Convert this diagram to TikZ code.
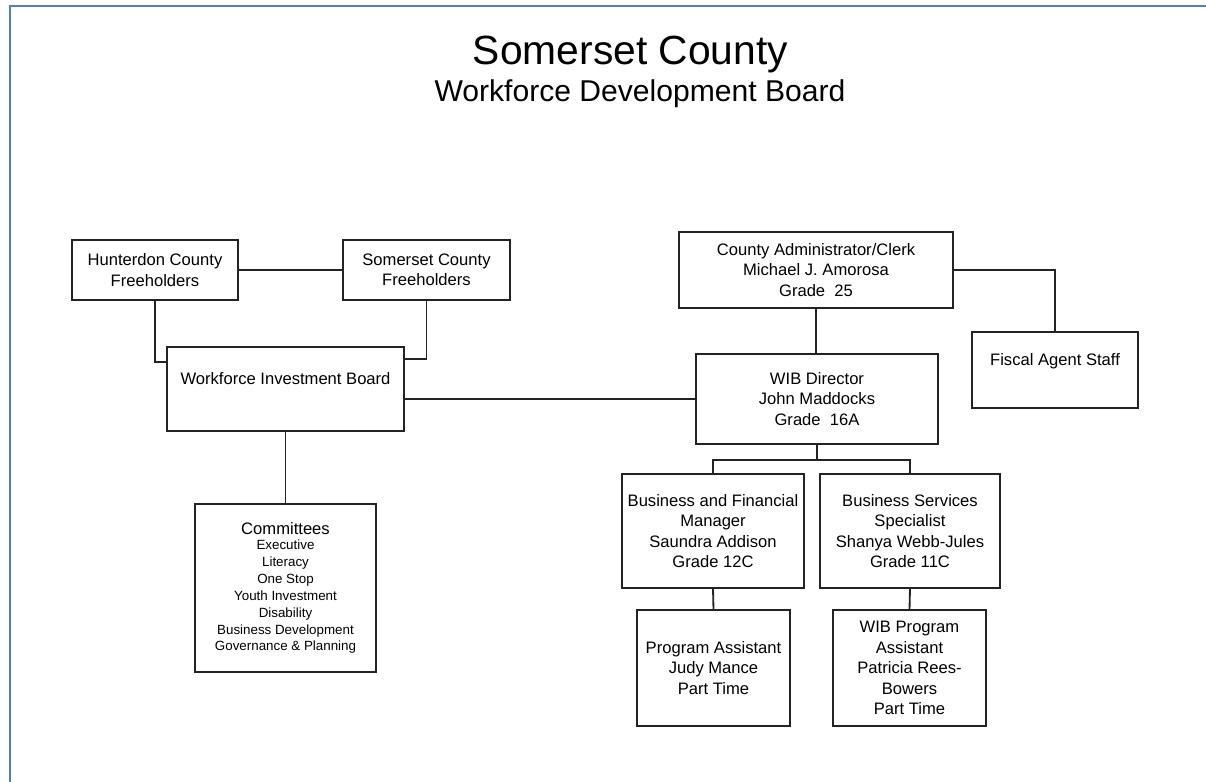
\documentclass[tikz,border=0pt]{standalone}
\usepackage{fontspec}
\setmainfont{Liberation Sans}
\usetikzlibrary{calc}
\definecolor{pageblue}{RGB}{79,129,189}
\definecolor{boxline}{RGB}{35,35,35}

\begin{document}
\begin{tikzpicture}[
  x=0.025cm,y=-0.025cm,
  unit/.style={rectangle,draw=boxline,line width=1.3pt,align=center,
               inner sep=1pt,outer sep=0pt,font=\fontsize{11.8}{14.5}\selectfont},
  link/.style={draw=boxline,line width=1.3pt},
  title/.style={anchor=base,inner sep=0pt}
]
\useasboundingbox (0,0) rectangle (1206,782);
\draw[pageblue,line width=1.6pt] (10,782) -- (10,6) -- (1206,6);
\node[title,font=\fontsize{29}{34}\selectfont] (head) at (630.5,65) {Somerset County};
\node[title,font=\fontsize{21.4}{25}\selectfont] (sub)  at (640,102) {Workforce Development Board};
\node[unit,minimum width=4.15cm,minimum height=1.5cm]   (hunt)   at (155,270)   {Hunterdon County\\Freeholders};
\node[unit,minimum width=4.175cm,minimum height=1.5cm]  (somfh)  at (426.5,270) {Somerset County\\Freeholders};
\node[unit,minimum width=5.925cm,minimum height=2.1cm]  (wib)    at (285.5,389) {Workforce Investment Board\\~};
\node[unit,minimum width=4.525cm,minimum height=4.2cm,font=\fontsize{9.5}{12}\selectfont] (comm) at (285.5,588)
  {{\fontsize{11.8}{14}\selectfont Committees}\\[-1pt]Executive\\Literacy\\One Stop\\Youth Investment\\Disability\\Business Development\\Governance \& Planning};
\node[unit,minimum width=6.85cm,minimum height=1.9cm]   (admin)  at (816,270)   {County Administrator/Clerk\\Michael J. Amorosa\\Grade\ \ 25};
\node[unit,minimum width=4.15cm,minimum height=1.9cm]   (fiscal) at (1055,370)  {Fiscal Agent Staff\\~};
\node[unit,minimum width=6.05cm,minimum height=2.25cm]  (dir)    at (817,399)   {WIB Director\\John Maddocks\\Grade\ \ 16A};
\node[unit,minimum width=4.55cm,minimum height=2.85cm]  (bfm)    at (713,531)   {Business and Financial\\Manager\\Saundra Addison\\Grade 12C};
\node[unit,minimum width=4.5cm,minimum height=2.85cm]   (bss)    at (910,531)   {Business Services\\Specialist\\Shanya Webb-Jules\\Grade 11C};
\node[unit,minimum width=3.825cm,minimum height=2.9cm]  (pa)     at (713.5,668) {Program Assistant\\Judy Mance\\Part Time};
\node[unit,minimum width=3.825cm,minimum height=2.9cm]  (wpa)    at (909.5,668) {WIB Program\\Assistant\\Patricia Rees-\\Bowers\\Part Time};
\draw[link] (hunt.east) -- (somfh.west);
\draw[link] (hunt.south) |- ($(wib.north west)+(0,15)$);
\draw[link] (somfh.south) |- ($(wib.north east)+(0,12)$);
\draw[link] (wib.south) -- (comm.north);
\draw[link] (dir.west) -- (dir.west -| wib.east);
\draw[link] (admin.south) -- (admin.south |- dir.north);
\draw[link] (admin.east) -| (fiscal.north);
\draw[link] (dir.south) -- ++(0,16) -| (bfm.north);
\draw[link] (dir.south) ++(0,16) -| (bss.north);
\draw[link] (bfm.south) -- (pa.north);
\draw[link] (bss.south) -- (wpa.north);
\end{tikzpicture}
\end{document}
